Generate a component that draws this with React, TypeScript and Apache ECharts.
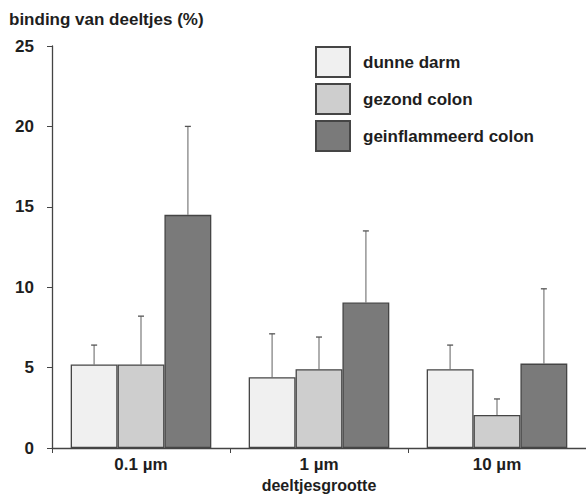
import React, { useEffect, useRef } from "react";
import * as echarts from "echarts";

const categories = ["0.1 µm", "1 µm", "10 µm"];
const seriesNames = ["dunne darm", "gezond colon", "geinflammeerd colon"];
const dunneDarm = [5.2, 4.4, 4.9];
const gezondColon = [5.2, 4.9, 2.05];
const geinflammeerdColon = [14.5, 9.05, 5.25];
const dunneDarmErr = [1.2, 2.7, 1.5];
const gezondColonErr = [3.0, 2.0, 1.0];
const geinflammeerdColonErr = [5.5, 4.45, 4.65];
const yTicks = [0, 5, 10, 15, 20, 25];

const colors = ["#f0f0f0", "#cecece", "#7a7a7a"];
const FONT = "Liberation Sans, Arial, sans-serif";
const CAT_GAP = 0.21;
const TXT = "#1e1e1e";

export default function App() {
  const ref = useRef<HTMLDivElement>(null);
  useEffect(() => {
    if (!ref.current) return;
    const chart = echarts.init(ref.current, null, { renderer: "svg" });
    const values = [dunneDarm, gezondColon, geinflammeerdColon];
    const errs = [dunneDarmErr, gezondColonErr, geinflammeerdColonErr];

    const barSeries = seriesNames.map((name, i) => ({
      name,
      type: "bar",
      data: values[i],
      barGap: "0%",
      barCategoryGap: CAT_GAP * 100 + "%",
      itemStyle: { color: colors[i], borderColor: "#454545", borderWidth: 1.3 },
      z: 2,
    }));

    const errData: number[][] = [];
    values.forEach((vals, si) => {
      vals.forEach((v, ci) => errData.push([ci, v, v + errs[si][ci], si]));
    });

    const errSeries = {
      type: "custom",
      name: "err",
      data: errData,
      z: 1,
      renderItem: (params: any, api: any) => {
        const ci = api.value(0);
        const si = api.value(3);
        const band = api.size([1, 0])[0];
        const bw = (band * (1 - CAT_GAP)) / 3;
        const base = api.coord([ci, api.value(1)]);
        const top = api.coord([ci, api.value(2)]);
        const x = base[0] + (si - 1) * bw;
        return {
          type: "group",
          children: [
            {
              type: "line",
              shape: { x1: x, y1: base[1], x2: x, y2: top[1] },
              style: { stroke: "#9c9c9c", lineWidth: 1.6 },
            },
            {
              type: "line",
              shape: { x1: x - 3, y1: top[1], x2: x + 3, y2: top[1] },
              style: { stroke: "#555", lineWidth: 1.3 },
            },
          ],
        };
      },
    };

    chart.setOption({
      animation: false,
      textStyle: { fontFamily: FONT },
      title: {
        text: "binding van deeltjes (%)",
        left: 4,
        top: 6,
        padding: [5, 5, 5, 5],
        textStyle: { fontSize: 17, fontWeight: "bold", color: TXT, fontFamily: FONT },
      },
      legend: {
        data: seriesNames,
        orient: "vertical",
        left: 310,
        top: 41,
        itemWidth: 34,
        itemHeight: 30,
        itemGap: 5,
        icon: "rect",
        textStyle: {
          fontSize: 17,
          fontWeight: "bold",
          color: TXT,
          fontFamily: FONT,
          padding: [0, 0, 0, 8],
        },
      },
      grid: {
        left: 52,
        right: 0,
        top: 46,
        bottom: 48,
        containLabel: false,
        outerBoundsMode: "none",
      },
      xAxis: {
        type: "category",
        data: categories,
        name: "deeltjesgrootte",
        nameLocation: "middle",
        nameGap: 29,
        nameTextStyle: { fontSize: 16, fontWeight: "bold", color: TXT, lineHeight: 16 },
        axisLine: { lineStyle: { color: "#444", width: 1.3 } },
        axisTick: { show: true, length: 5, lineStyle: { color: "#444" } },
        axisLabel: { fontSize: 17, fontWeight: "bold", color: TXT, margin: 8 },
      },
      yAxis: {
        type: "value",
        min: yTicks[0],
        max: yTicks[yTicks.length - 1],
        interval: 5,
        splitLine: { show: false },
        axisLine: { show: true, lineStyle: { color: "#444", width: 1.3 } },
        axisTick: { show: true, length: 5, lineStyle: { color: "#444" } },
        axisLabel: { fontSize: 17, fontWeight: "bold", color: TXT, margin: 18 },
      },
      series: [...barSeries, errSeries],
    });
    return () => chart.dispose();
  }, []);
  return <div ref={ref} style={{ width: 586, height: 496, position: "absolute", left: 0, top: 0 }} />;
}
